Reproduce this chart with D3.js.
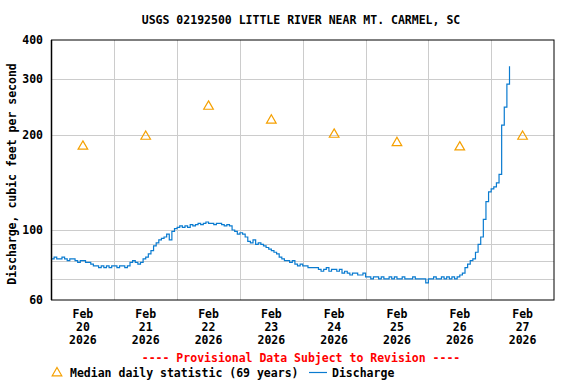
<!DOCTYPE html>
<meta charset="utf-8">
<script src="https://d3js.org/d3.v7.min.js"></script>
<style>
  body { margin: 0; background: #fff; }
  text { font-family: "DejaVu Sans Mono", monospace; font-weight: bold; font-size: 11.5px; }
</style>
<div id="chart"></div>
<script>
// hourly discharge (cfs) starting Feb 20 2026 00:00
var startTime = new Date(Date.UTC(2026, 1, 20, 0));
var discharge = [
  81, 82, 81, 81, 82, 81, 80, 81, 81,
  80, 79, 80, 80, 79, 79,
  78, 77, 77, 76, 77, 76, 77, 76, 77, 77, 76, 77, 77, 76, 77,
  79, 80, 79, 78,
  79, 81, 82, 84, 86, 89, 91, 93, 94, 95, 97, 93, 99, 101, 102,
  103, 102, 103, 102, 104, 103, 104,
  105, 104, 105, 106, 105, 105, 104, 105,
  105, 104, 103, 104, 103,
  100, 99, 97, 98, 97, 95,
  92, 91, 93, 90, 91,
  90, 89, 88, 87, 86, 85, 84, 82, 81,
  80, 80, 79, 80,
  78, 77, 78, 77, 77,
  76, 76, 76, 76,
  75, 74, 75, 76, 74, 75, 75, 74, 75,
  73, 74, 73, 72, 73, 73, 72, 72, 73,
  71, 71, 70, 71, 71, 70, 71, 70, 70, 71,
  70, 71, 70, 70, 71, 70, 70, 70, 71, 70, 70, 70, 70,
  68,
  70, 70, 71, 70, 70, 71, 70, 71, 70, 71, 70,
  71, 72, 73, 76, 78, 80, 81, 85, 90, 95, 108, 123, 132, 135, 137, 141, 150, 215, 245, 290, 330
];

// median daily statistic, plotted at noon
var medianDays = [20, 21, 22, 23, 24, 25, 26, 27];
var medianValues = [186, 200, 249, 225, 203, 191, 185, 200];

var yTickLabels = [60, 100, 200, 300, 400];
var yGrid = [70, 80, 90, 100, 200, 300];

var W = 576, H = 384;
var plotL = 51.5, plotR = 554, plotT = 40, plotB = 300;

var svg = d3.select("#chart").append("svg")
    .attr("width", W)
    .attr("height", H);

var x = d3.scaleUtc()
    .domain([new Date(Date.UTC(2026, 1, 20)), new Date(Date.UTC(2026, 1, 28))])
    .range([plotL, plotR]);

var y = d3.scaleLog()
    .domain([60, 400])
    .range([plotB, plotT]);

// grid
var midnights = d3.range(21, 28).map(function(d) { return new Date(Date.UTC(2026, 1, d)); });
svg.append("g").selectAll("line").data(midnights).enter().append("line")
    .attr("x1", function(d) { return Math.round(x(d)) + 0.5; })
    .attr("x2", function(d) { return Math.round(x(d)) + 0.5; })
    .attr("y1", plotT).attr("y2", plotB)
    .attr("stroke", "#cccccc");
svg.append("g").selectAll("line").data(yGrid).enter().append("line")
    .attr("x1", plotL).attr("x2", plotR)
    .attr("y1", function(d) { return Math.round(y(d)) + 0.5; })
    .attr("y2", function(d) { return Math.round(y(d)) + 0.5; })
    .attr("stroke", "#cccccc");

// discharge line
var pts = discharge.map(function(v, i) {
  return { t: new Date(startTime.getTime() + i * 3600000), v: v };
});
var line = d3.line()
    .x(function(d) { return x(d.t); })
    .y(function(d) { return y(d.v); })
    .curve(d3.curveStepAfter);
svg.append("path")
    .datum(pts)
    .attr("d", line)
    .attr("fill", "none")
    .attr("stroke", "#0a7bd0")
    .attr("stroke-width", 1.2);

// median triangles (shifted so the box, not the centroid, sits on the value)
var tri = d3.symbol().type(d3.symbolTriangle).size(40);
svg.append("g").selectAll("path").data(medianDays).enter().append("path")
    .attr("d", tri)
    .attr("transform", function(d, i) {
      return "translate(" + x(new Date(Date.UTC(2026, 1, d, 12))) + "," + (y(medianValues[i]) + 1.5) + ")";
    })
    .attr("fill", "none")
    .attr("stroke", "#f5a000")
    .attr("stroke-width", 1.2);

// frame
svg.append("rect")
    .attr("x", plotL).attr("y", plotT)
    .attr("width", plotR - plotL).attr("height", plotB - plotT)
    .attr("fill", "none").attr("stroke", "#000").attr("stroke-width", 1);
svg.append("line")
    .attr("x1", plotL).attr("x2", plotL).attr("y1", plotT).attr("y2", plotB)
    .attr("stroke", "#000").attr("stroke-width", 1.5);

// y tick labels
svg.append("g").selectAll("text").data(yTickLabels).enter().append("text")
    .attr("x", 43)
    .attr("y", function(d) { return y(d) + 4; })
    .attr("text-anchor", "end")
    .text(function(d) { return d; });

// x labels
var noons = medianDays.map(function(d) { return new Date(Date.UTC(2026, 1, d, 12)); });
var xl = svg.append("g").selectAll("text").data(noons).enter().append("text")
    .attr("text-anchor", "middle");
xl.append("tspan").attr("y", 318).attr("x", function(d) { return x(d); }).text("Feb");
xl.append("tspan").attr("y", 331).attr("x", function(d) { return x(d); }).text(function(d) { return d.getUTCDate(); });
xl.append("tspan").attr("y", 344).attr("x", function(d) { return x(d); }).text("2026");

// title and axis label
svg.append("text")
    .attr("x", 301).attr("y", 24)
    .attr("text-anchor", "middle")
    .text("USGS 02192500 LITTLE RIVER NEAR MT. CARMEL, SC");
svg.append("text")
    .attr("transform", "translate(16,174) rotate(-90)")
    .attr("text-anchor", "middle")
    .text("Discharge, cubic feet per second");

svg.append("text")
    .attr("x", 301).attr("y", 362)
    .attr("text-anchor", "middle")
    .attr("fill", "#ff0000")
    .text("---- Provisional Data Subject to Revision ----");

// legend
svg.append("path")
    .attr("d", tri)
    .attr("transform", "translate(57,373)")
    .attr("fill", "none")
    .attr("stroke", "#f5a000")
    .attr("stroke-width", 1.2);
svg.append("text").attr("x", 70).attr("y", 377).text("Median daily statistic (69 years)");
svg.append("line")
    .attr("x1", 309).attr("x2", 327).attr("y1", 372.5).attr("y2", 372.5)
    .attr("stroke", "#0a7bd0").attr("stroke-width", 1.2);
svg.append("text").attr("x", 332).attr("y", 377).text("Discharge");
</script>
